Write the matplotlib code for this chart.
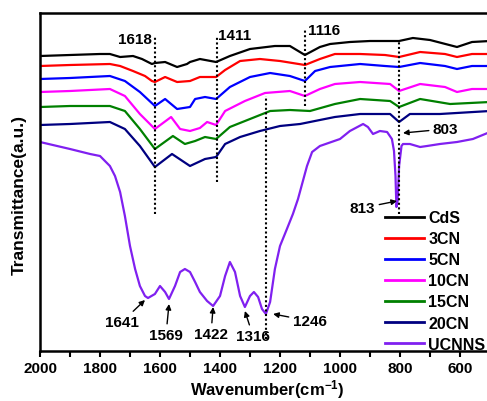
import matplotlib
matplotlib.use("Agg")
import matplotlib.pyplot as plt

plt.rcParams['font.family'] = ['Liberation Sans', 'DejaVu Sans']
plt.rcParams['font.weight'] = 'bold'
plt.rcParams['mathtext.fontset'] = 'custom'
plt.rcParams['mathtext.rm'] = 'Liberation Sans:bold'
plt.rcParams['mathtext.bf'] = 'Liberation Sans:bold'
plt.rcParams['mathtext.default'] = 'bf'

# ---------------- data (wavenumber, transmittance a.u.) ----------------
cds_w = [2000, 1900, 1800, 1767, 1733, 1690, 1660, 1627, 1617, 1583, 1543, 1510, 1500, 1467,
         1413, 1367, 1300, 1217, 1167, 1117, 1067, 1033, 967, 900, 803, 757, 700, 610, 560, 500]
cds_t = [295, 296, 297, 297, 294, 295, 292, 287, 288, 289, 284, 287, 289, 292,
         289, 295, 302, 305, 305, 296, 304, 307, 309, 310, 310, 313, 311, 304, 309, 310]

cn3_w = [2000, 1900, 1767, 1733, 1690, 1650, 1627, 1617, 1583, 1543, 1500, 1467, 1433, 1413,
         1383, 1333, 1267, 1200, 1117, 1067, 1017, 933, 850, 803, 733, 650, 610, 560, 500]
cn3_t = [285, 286, 287, 285, 280, 275, 270, 269, 274, 269, 270, 274, 274, 274,
         281, 290, 292, 290, 286, 292, 297, 297, 296, 294, 299, 297, 294, 297, 297]

cn5_w = [2000, 1900, 1767, 1717, 1667, 1617, 1583, 1543, 1500, 1483, 1450, 1413, 1367, 1300,
         1233, 1167, 1117, 1083, 1033, 933, 850, 803, 733, 650, 610, 560, 500]
cn5_t = [272, 273, 275, 270, 259, 245, 252, 242, 244, 252, 254, 252, 264, 274,
         278, 275, 270, 280, 284, 287, 285, 284, 288, 285, 282, 285, 285]

cn10_w = [2000, 1900, 1767, 1717, 1667, 1617, 1563, 1533, 1500, 1467, 1443, 1413, 1383, 1317,
          1250, 1167, 1117, 1067, 1017, 933, 833, 803, 733, 650, 610, 560, 500]
cn10_t = [259, 260, 262, 255, 237, 222, 234, 222, 220, 223, 229, 226, 240, 250,
          258, 260, 255, 262, 267, 269, 267, 260, 267, 264, 259, 262, 262]

cn15_w = [2000, 1900, 1767, 1717, 1667, 1617, 1557, 1517, 1483, 1450, 1413, 1367, 1300, 1233,
          1167, 1100, 1017, 933, 833, 803, 733, 633, 500]
cn15_t = [244, 245, 245, 240, 222, 202, 215, 207, 210, 214, 212, 224, 232, 240,
          241, 240, 247, 252, 250, 244, 252, 247, 249]

cn20_w = [2000, 1900, 1767, 1717, 1667, 1617, 1560, 1500, 1450, 1413, 1383, 1333, 1267, 1200,
          1133, 1067, 1017, 933, 833, 803, 767, 667, 500]
cn20_t = [226, 227, 229, 222, 205, 184, 197, 185, 192, 194, 207, 214, 220, 225,
          227, 231, 234, 237, 237, 229, 237, 237, 240]

ucnns_w = [2000, 1900, 1833, 1800, 1767, 1750, 1733, 1717, 1700, 1683, 1667, 1650, 1640, 1617,
           1600, 1583, 1570, 1550, 1533, 1517, 1500, 1483, 1467, 1443, 1423, 1400, 1383, 1367,
           1350, 1333, 1317, 1300, 1287, 1273, 1260, 1247, 1233, 1217, 1200, 1177, 1157, 1140,
           1110, 1093, 1067, 1000, 967, 923, 907, 890, 867, 843, 827, 820, 815, 812, 808, 803,
           795, 790, 767, 733, 710, 667, 610, 557, 500]
ucnns_t = [209, 202, 197, 195, 185, 175, 159, 135, 105, 82, 65, 55, 53, 57,
           65, 59, 52, 65, 79, 82, 79, 69, 59, 50, 45, 55, 75, 89,
           79, 55, 44, 55, 59, 54, 42, 37, 49, 82, 105, 122, 137, 152,
           185, 199, 205, 212, 220, 227, 224, 217, 220, 219, 212, 200, 175, 144, 150, 185,
           205, 207, 207, 204, 205, 207, 209, 212, 219]

series = [
    ("CdS", cds_w, cds_t, "#000000"),
    ("3CN", cn3_w, cn3_t, "#FF0000"),
    ("5CN", cn5_w, cn5_t, "#0000FF"),
    ("10CN", cn10_w, cn10_t, "#FF00FF"),
    ("15CN", cn15_w, cn15_t, "#008000"),
    ("20CN", cn20_w, cn20_t, "#000080"),
    ("UCNNS", ucnns_w, ucnns_t, "#8020F0"),
]

# dotted guide lines: position, bottom, top
guide_pos = [1618, 1411, 1116, 803, 1246]
guide_lo = [137, 169, 245, 137, 12]
guide_hi = [314, 314, 322, 310, 255]

# top peak labels
top_labels = ["1618", "1411", "1116"]
top_label_w = [1627, 1407, 1107]
top_label_t = [312, 316, 321]
top_label_ha = ["right", "left", "left"]

# arrow annotations: text, text pos, arrow head
ann_text = ["803", "813", "1641", "1569", "1422", "1316", "1246"]
ann_tw = [690, 883, 1727, 1580, 1430, 1290, 1157]
ann_tt = [222, 143, 29, 16, 17, 15, 30]
ann_ha = ["left", "right", "center", "center", "center", "center", "left"]
ann_hw = [790, 810, 1650, 1570, 1423, 1317, 1223]
ann_ht = [218, 150, 51, 47, 44, 40, 37]

# ---------------- figure ----------------
fig = plt.figure(figsize=(4.87, 4.02), dpi=100)
ax = fig.add_axes([40 / 487, 50 / 402, 480 / 487, 338 / 402])

for name, w, t, c in series:
    ax.plot(w, t, color=c, lw=1.6, label=name)

for p, lo, hi in zip(guide_pos, guide_lo, guide_hi):
    ax.plot([p, p], [lo, hi], color="black", lw=1.5, ls=(0, (1, 1.2)))

for s, w, t, ha in zip(top_labels, top_label_w, top_label_t, top_label_ha):
    ax.text(w, t, s, ha=ha, va="center", fontsize=11, fontweight="bold")

for s, tw, tt, ha, hw, ht in zip(ann_text, ann_tw, ann_tt, ann_ha, ann_hw, ann_ht):
    ax.annotate(s, xy=(hw, ht), xytext=(tw, tt), ha=ha, va="center",
                fontsize=11, fontweight="bold",
                arrowprops=dict(arrowstyle="-|>", color="black", lw=1.0,
                                mutation_scale=8, shrinkA=1, shrinkB=0))

ax.set_xlim(2000, 400)
ax.set_ylim(0, 338)
ax.set_yticks([])
ax.set_xticks([2000, 1800, 1600, 1400, 1200, 1000, 800, 600])
ax.set_xticks(range(1900, 400, -200), minor=True)
ax.tick_params(axis="x", which="both", direction="out", length=4, width=1.5, pad=3,
               labelsize=11)
for lab in ax.get_xticklabels():
    lab.set_fontweight("bold")
for sp in ax.spines.values():
    sp.set_linewidth(1.8)

ax.set_xlabel(r"Wavenumber(cm$^{-1}$)", fontsize=12, fontweight="bold")
ax.xaxis.set_label_coords(0.473, -0.078)
ax.set_ylabel("Transmittance(a.u.)", fontsize=12.5, fontweight="bold")
ax.yaxis.set_label_coords(-0.027, 0.464)

leg = ax.legend(loc="upper left", bbox_to_anchor=(382 / 487, 1 - 208 / 402),
                bbox_transform=fig.transFigure, frameon=False, fontsize=11.5,
                handlelength=2.4, handletextpad=0.3, labelspacing=0.38,
                borderpad=0.2, borderaxespad=0)
for line in leg.get_lines():
    line.set_linewidth(2)

fig.savefig("out.png", dpi=100)
